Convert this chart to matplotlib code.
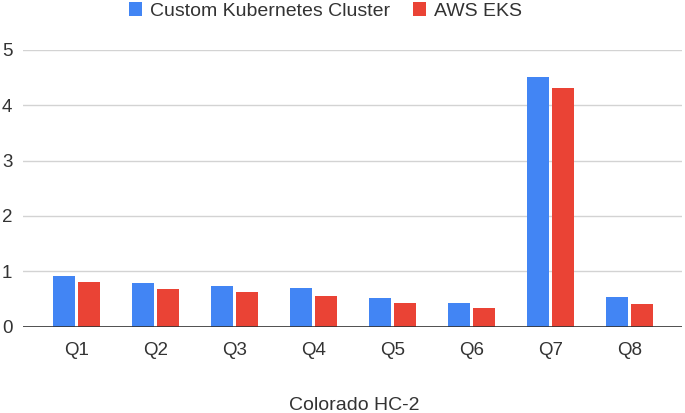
import matplotlib
matplotlib.use("Agg")
import matplotlib.pyplot as plt
import numpy as np

categories = ["Q1", "Q2", "Q3", "Q4", "Q5", "Q6", "Q7", "Q8"]
custom_k8s = [0.92, 0.78, 0.74, 0.69, 0.51, 0.42, 4.52, 0.53]
aws_eks = [0.80, 0.67, 0.625, 0.55, 0.42, 0.33, 4.31, 0.40]
series_names = ["Custom Kubernetes Cluster", "AWS EKS"]
y_ticks = [0, 1, 2, 3, 4, 5]
x_title = "Colorado HC-2"

plt.rcParams['font.family'] = ['Liberation Sans', 'DejaVu Sans']
fig = plt.figure(figsize=(6.85, 4.13), dpi=100)
ax = fig.add_axes([23/685, 1 - 326.5/413, 659/685, 276.5/413])

blue = "#4285F4"
red = "#EA4335"
txt = "#333333"
x = np.arange(len(categories))
w = 0.28
off = 0.157
ax.bar(x - off, custom_k8s, width=w, color=blue, zorder=3, label=series_names[0])
ax.bar(x + off, aws_eks, width=w, color=red, zorder=3, label=series_names[1])

ax.set_xlim(-0.676, 7.66)
ax.set_ylim(0, 5)
ax.set_yticks(y_ticks)
ax.yaxis.grid(True, color="#d3d3d3", linewidth=1, zorder=0)
ax.axhline(0, color="#333333", linewidth=1.2, zorder=4)
for s in ax.spines.values():
    s.set_visible(False)
ax.tick_params(axis='both', length=0, labelsize=13.5, colors=txt)
ax.tick_params(axis='y', pad=7.6)
ax.tick_params(axis='x', pad=11.0)
ax.set_xticks(x)
ax.set_xticklabels(categories)

fig.text(354/685, 1 - 410/413, x_title, ha='center', va='baseline', fontsize=14, color=txt)

fig.legend(loc='center', bbox_to_anchor=(325.5/685, 1 - 11/413), ncol=2, frameon=False,
           fontsize=14, handlelength=0.67, handleheight=0.67, handletextpad=0.41,
           columnspacing=1.13, labelcolor=txt)

fig.savefig("out.png", dpi=100)
